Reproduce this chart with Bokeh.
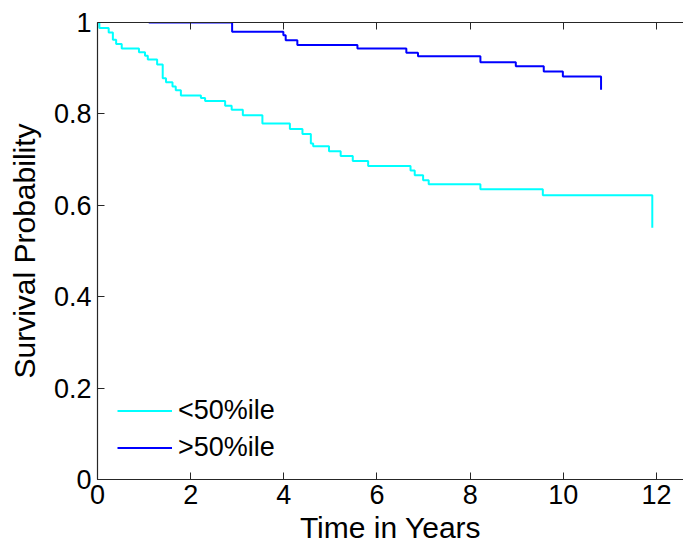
from bokeh.plotting import figure
from bokeh.models import (Range1d, LinearAxis, FixedTicker, Legend, LegendItem,
                          CustomJSTickFormatter, CustomLabelingPolicy)
from bokeh.embed import file_html
from bokeh.resources import INLINE

# Kaplan-Meier step data
low_t = [0.0, 0.04, 0.24, 0.33, 0.40, 0.52, 0.89, 1.02, 1.08, 1.28, 1.40, 1.47, 1.61, 1.68,
         1.79, 2.22, 2.31, 2.74, 2.88, 3.12, 3.54, 4.13, 4.40, 4.58, 4.63, 4.97, 5.22, 5.48,
         5.81, 6.72, 6.81, 6.99, 7.11, 8.22, 9.56, 11.91]
low_s = [1.0, 0.988, 0.978, 0.962, 0.953, 0.943, 0.935, 0.927, 0.919, 0.908, 0.878, 0.869,
         0.860, 0.852, 0.840, 0.835, 0.828, 0.818, 0.809, 0.797, 0.779, 0.767, 0.756, 0.735,
         0.729, 0.718, 0.708, 0.697, 0.686, 0.676, 0.666, 0.655, 0.646, 0.635, 0.622, 0.551]

high_t = [1.10, 2.89, 3.99, 4.04, 4.29, 5.58, 6.63, 6.88, 8.22, 8.98, 9.58, 9.99, 10.81]
high_s = [1.0, 0.980, 0.972, 0.961, 0.951, 0.943, 0.934, 0.926, 0.913, 0.904, 0.893, 0.882, 0.853]

x_ticks = [0, 2, 4, 6, 8, 10, 12]
y_ticks = [0, 0.2, 0.4, 0.6, 0.8, 1]
labels = ["<50%ile", ">50%ile"]
colors = ["#00FFFF", "#0000FF"]

FONT = "Liberation Sans"

p = figure(width=683, height=546, output_backend="svg", toolbar_location=None,
           x_range=Range1d(0, 12.58), y_range=Range1d(0, 1),
           min_border_left=97, min_border_right=0, min_border_top=20, min_border_bottom=66)
p.grid.visible = False
p.outline_line_color = None
p.background_fill_color = "white"
p.border_fill_color = "white"

r1 = p.step(low_t, low_s, mode="after", line_color=colors[0], line_width=2)
r2 = p.step(high_t, high_s, mode="after", line_color=colors[1], line_width=2)

def style(ax, ticks):
    ax.ticker = FixedTicker(ticks=ticks)
    ax.axis_line_color = "#262626"
    ax.axis_line_width = 1.2
    ax.major_tick_line_color = "#262626"
    ax.major_tick_in = 7
    ax.major_tick_out = 0
    ax.minor_tick_line_color = None
    ax.major_label_text_font = FONT
    ax.major_label_text_font_size = "27px"
    ax.major_label_text_color = "black"
    ax.axis_label_text_font = FONT
    ax.axis_label_text_font_size = "30px"
    ax.axis_label_text_font_style = "normal"
    ax.axis_label_text_color = "black"

style(p.xaxis[0], x_ticks)
style(p.yaxis[0], y_ticks)
p.xaxis[0].axis_label = "Time in Years"
p.yaxis[0].axis_label = "Survival Probability"
p.xaxis[0].major_label_standoff = 5
p.yaxis[0].major_label_standoff = 6
p.xaxis[0].axis_label_standoff = 4
p.yaxis[0].axis_label_standoff = 10
p.yaxis[0].formatter = CustomJSTickFormatter(
    code="return tick == 0 || tick == 1 ? tick.toFixed(0) : tick.toFixed(1);")

top = LinearAxis()
style(top, x_ticks)
top.major_label_standoff = 0
top.major_label_policy = CustomLabelingPolicy(
    code="for (const i of Array.from(indices)) { indices.unset(i) } return indices;")
p.add_layout(top, "above")

legend = Legend(items=[LegendItem(label=labels[0], renderers=[r1]),
                       LegendItem(label=labels[1], renderers=[r2])],
                location=(20, 13), border_line_color=None, background_fill_alpha=0,
                padding=0, margin=0, spacing=0, glyph_width=55, glyph_height=37,
                label_height=37, label_standoff=6, label_text_font=FONT,
                label_text_font_size="27px", label_text_color="black")
p.add_layout(legend)

open("out.html", "w").write(file_html(p, INLINE))
